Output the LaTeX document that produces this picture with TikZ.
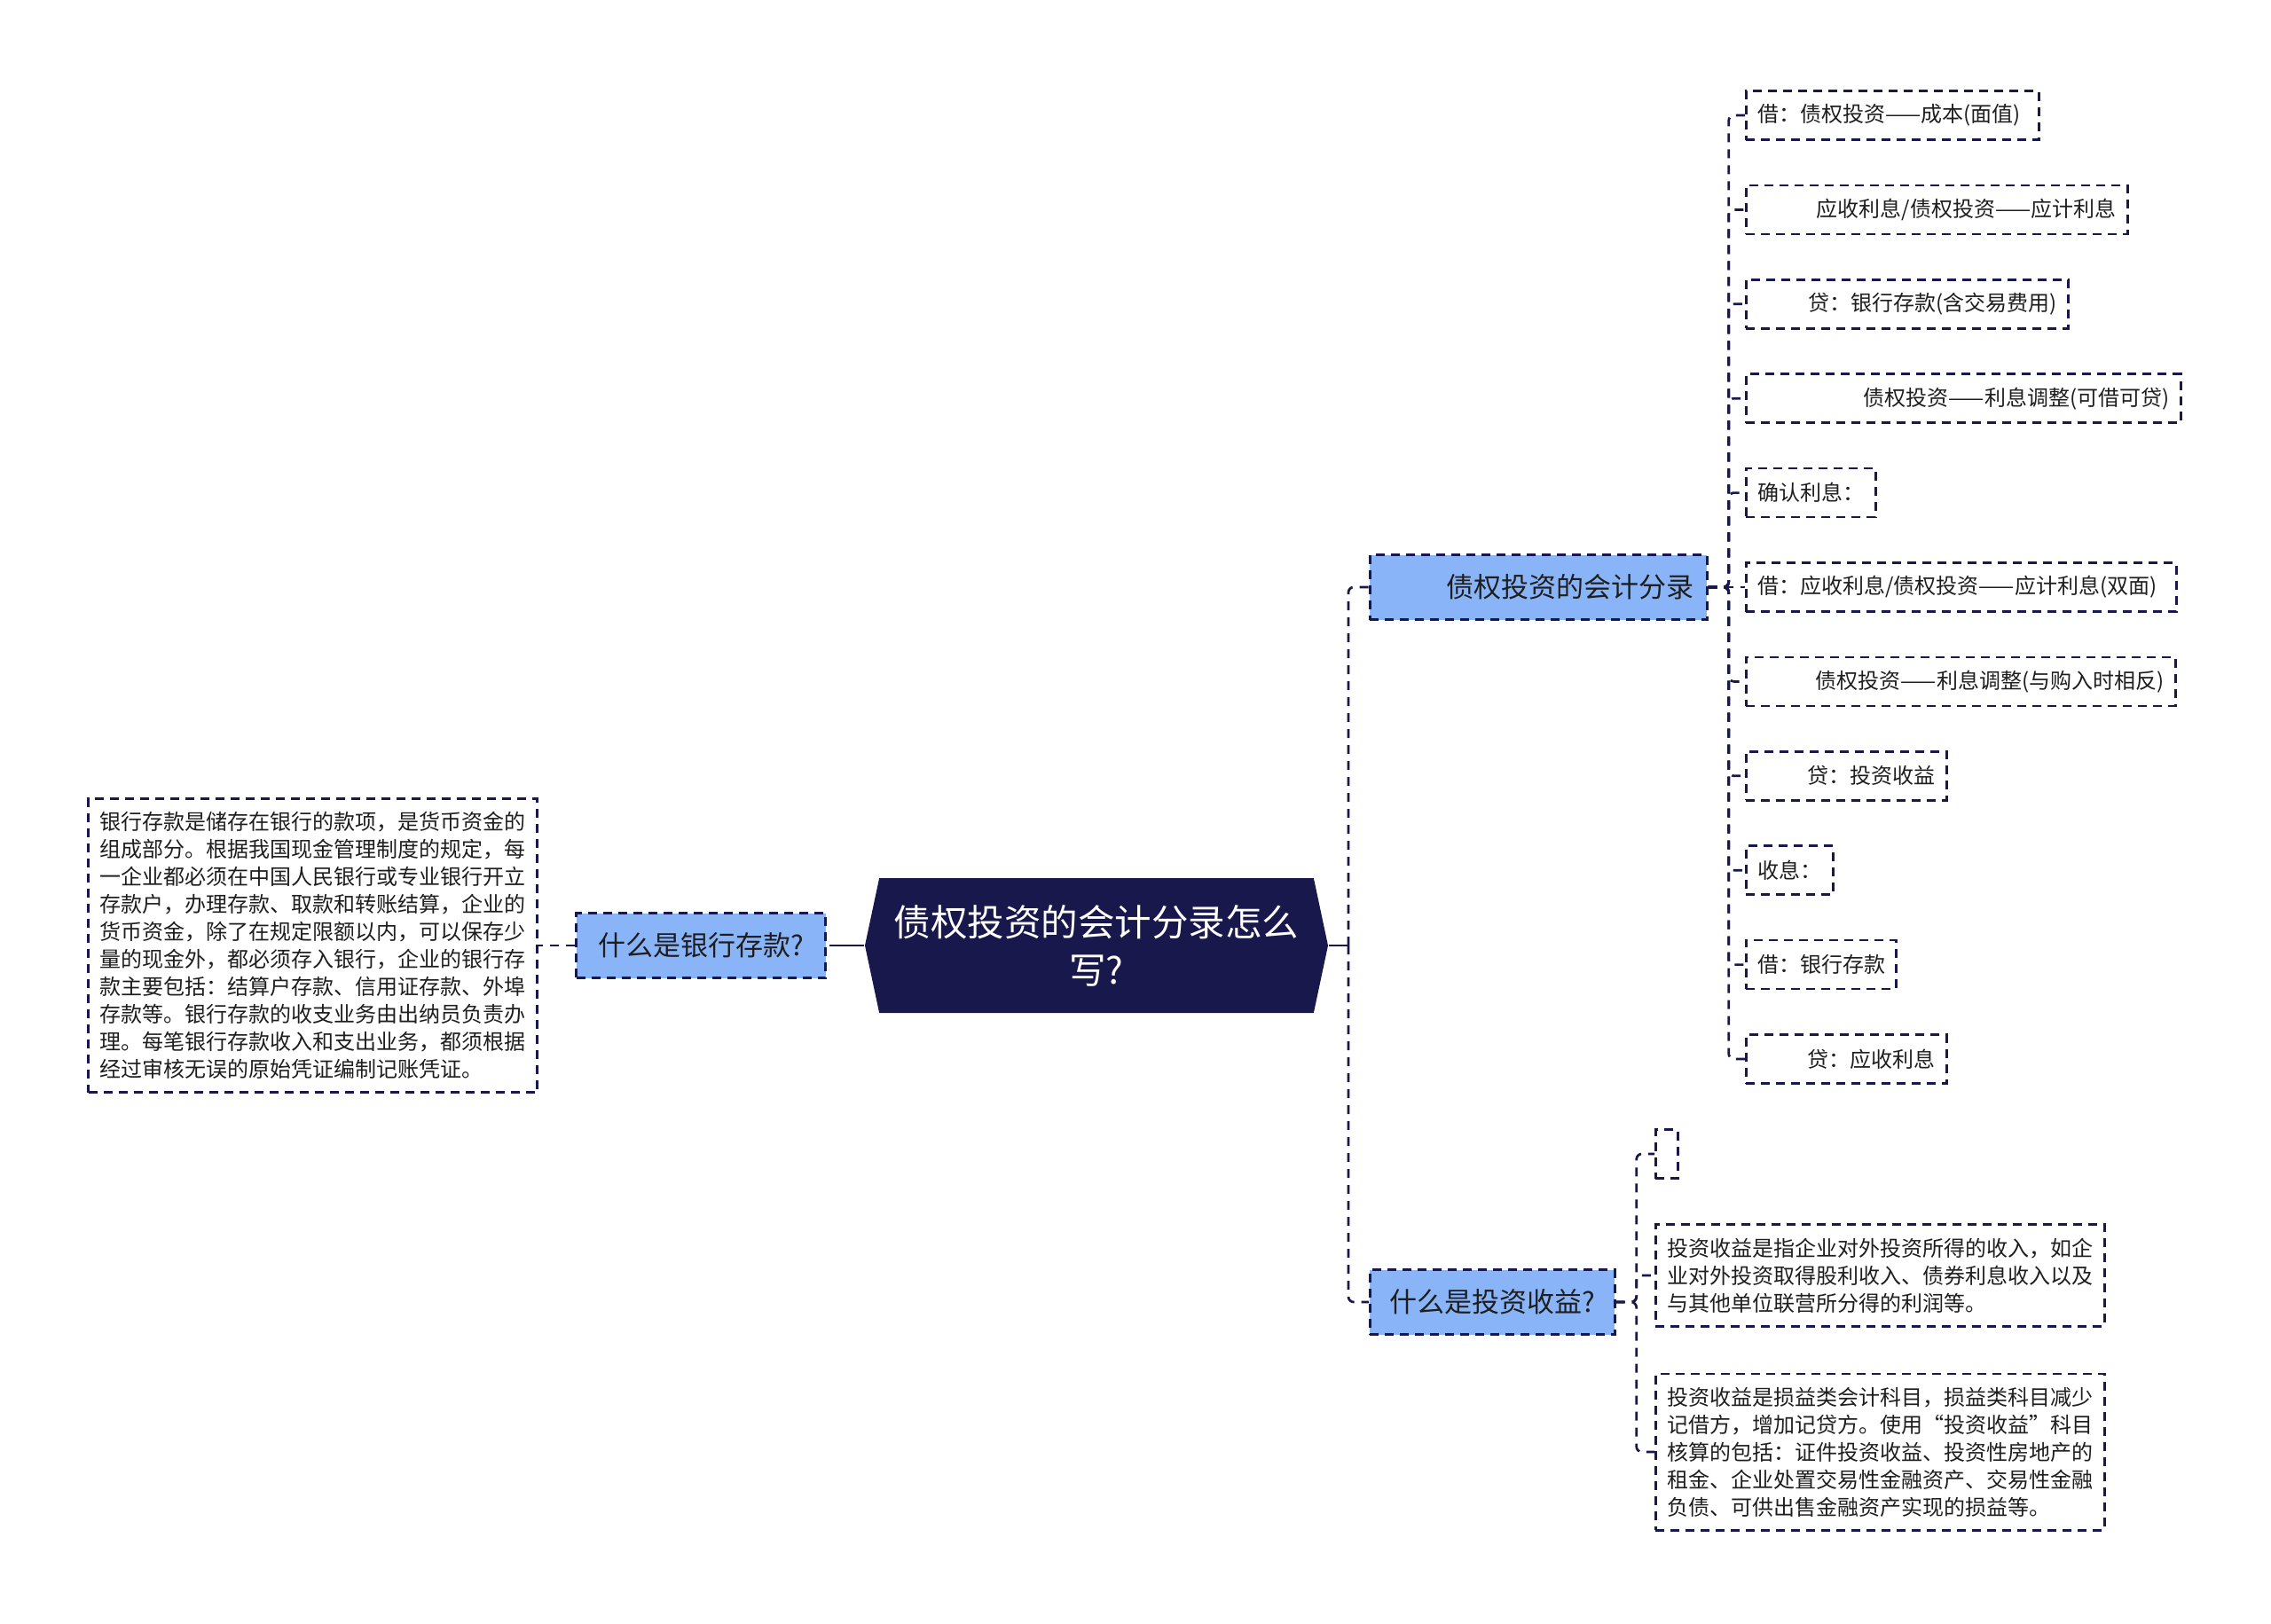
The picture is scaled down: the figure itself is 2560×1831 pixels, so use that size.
\documentclass[tikz,border=0pt]{standalone}
\usepackage{fontspec}
\setmainfont{Noto Sans CJK SC}
\usetikzlibrary{shapes.symbols}
\definecolor{mapnavy}{HTML}{18184C}
\definecolor{mapblue}{HTML}{8AB4F8}
\definecolor{mapink}{HTML}{1E1E1E}

\begin{document}
\begin{tikzpicture}[x=1pt,y=-1pt,line width=2.7pt,
  topic/.style={signal,signal to=west and east,signal pointer angle=156,fill=mapnavy,text=white,align=center,minimum width=522pt,minimum height=152pt,font=\fontsize{41.5}{54}\selectfont},
  subtopic/.style={draw=mapnavy,fill=mapblue,dash pattern=on 10pt off 7pt,minimum height=73pt,inner xsep=15pt,text=mapink,font=\fontsize{31}{36}\selectfont},
  entry/.style={draw=mapnavy,dash pattern=on 10pt off 7pt,anchor=west,minimum height=55pt,inner xsep=13pt,text=mapink,font=\fontsize{24}{31}\selectfont},
  note/.style={entry,text width=480pt,align=left,inner ysep=15pt},
  link/.style={draw=mapnavy,dash pattern=on 10pt off 8pt,rounded corners=6pt}]
  \useasboundingbox (0,0) rectangle (2560,1831);

  % centre and main branches
  \node[topic] (root) at (1236,1066) {债权投资的会计分录怎么\\写?};
  \node[subtopic,anchor=east,minimum width=281pt] (bank) at (932,1066) {什么是银行存款?};
  \node[subtopic,anchor=west,text width=350pt,align=right] (entries) at (1543,662) {债权投资的会计分录};
  \node[subtopic,anchor=west,minimum width=276pt] (gain) at (1543,1468) {什么是投资收益?};

  % left side
  \node[note,anchor=east] (banktext) at (607,1066) {银行存款是储存在银行的款项，是货币资金的\\组成部分。根据我国现金管理制度的规定，每\\一企业都必须在中国人民银行或专业银行开立\\存款户，办理存款、取款和转账结算，企业的\\货币资金，除了在规定限额以内，可以保存少\\量的现金外，都必须存入银行，企业的银行存\\款主要包括：结算户存款、信用证存款、外埠\\存款等。银行存款的收支业务由出纳员负责办\\理。每笔银行存款收入和支出业务，都须根据\\经过审核无误的原始凭证编制记账凭证。};

  % accounting entries
  \node[entry,text width=304pt,align=left] (e1) at (1967,130) {借：债权投资——成本(面值)};
  \node[entry,text width=404pt,align=right] (e2) at (1967,236.4) {应收利息/债权投资——应计利息};
  \node[entry,text width=337pt,align=right] (e3) at (1967,342.8) {贷：银行存款(含交易费用)};
  \node[entry,text width=464pt,align=right] (e4) at (1967,449.2) {债权投资——利息调整(可借可贷)};
  \node[entry,text width=120pt,align=left] (e5) at (1967,555.6) {确认利息：};
  \node[entry,text width=459pt,align=left] (e6) at (1967,662) {借：应收利息/债权投资——应计利息(双面)};
  \node[entry,text width=458pt,align=right] (e7) at (1967,768.4) {债权投资——利息调整(与购入时相反)};
  \node[entry,text width=200pt,align=right] (e8) at (1967,874.8) {贷：投资收益};
  \node[entry,text width=72pt,align=left] (e9) at (1967,981.2) {收息：};
  \node[entry,text width=143pt,align=left] (e10) at (1967,1087.6) {借：银行存款};
  \node[entry,text width=200pt,align=right] (e11) at (1967,1194) {贷：应收利息};

  % investment income
  \node[entry,minimum width=25pt,inner sep=0pt] (g0) at (1865,1301) {};
  \node[note] (g1) at (1865,1438) {投资收益是指企业对外投资所得的收入，如企\\业对外投资取得股利收入、债券利息收入以及\\与其他单位联营所分得的利润等。};
  \node[note] (g2) at (1865,1637) {投资收益是损益类会计科目，损益类科目减少\\记借方，增加记贷方。使用“投资收益”科目\\核算的包括：证件投资收益、投资性房地产的\\租金、企业处置交易性金融资产、交易性金融\\负债、可供出售金融资产实现的损益等。};

  % connectors
  \coordinate (lj) at (945,1066);
  \coordinate (rj) at (1520,1066);
  \draw[mapnavy] (root.west) -- (lj);
  \draw[link] (lj) -- (bank.east);
  \draw[link] (bank.west) -- (banktext.east);
  \draw[mapnavy] (root.east) -- (rj);
  \draw[link] (rj) |- (entries.west);
  \draw[link] (rj) |- (gain.west);
  \draw[link] (entries.east) -- ++(23,0) |- (e1.west);
  \draw[link] (entries.east) -- ++(23,0) |- (e2.west);
  \draw[link] (entries.east) -- ++(23,0) |- (e3.west);
  \draw[link] (entries.east) -- ++(23,0) |- (e4.west);
  \draw[link] (entries.east) -- ++(23,0) |- (e5.west);
  \draw[link] (entries.east) -- (e6.west);
  \draw[link] (entries.east) -- ++(23,0) |- (e7.west);
  \draw[link] (entries.east) -- ++(23,0) |- (e8.west);
  \draw[link] (entries.east) -- ++(23,0) |- (e9.west);
  \draw[link] (entries.east) -- ++(23,0) |- (e10.west);
  \draw[link] (entries.east) -- ++(23,0) |- (e11.west);
  \draw[link] (gain.east) -- ++(23,0) |- (g0.west);
  \draw[link] (gain.east) -- ++(23,0) |- (g1.west);
  \draw[link] (gain.east) -- ++(23,0) |- (g2.west);
\end{tikzpicture}
\end{document}
